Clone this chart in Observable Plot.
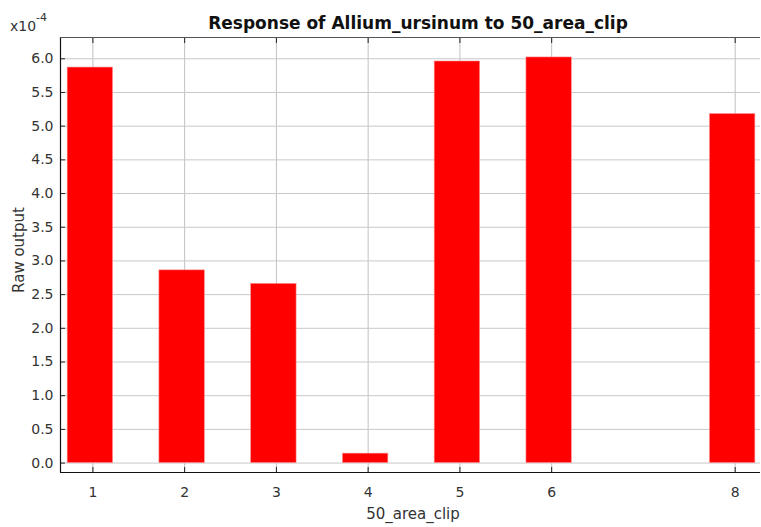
<!DOCTYPE html>
<html><head><meta charset="utf-8">
<script src="https://cdn.jsdelivr.net/npm/d3@7"></script>
<script src="https://cdn.jsdelivr.net/npm/@observablehq/plot@0.6"></script>
<style>
body{margin:0;background:#fff;}
svg{font-family:"DejaVu Sans",sans-serif;}
</style></head>
<body><div id="chart"></div>
<script>
const categories = [1, 2, 3, 4, 5, 6, 8];
const values = [5.87, 2.86, 2.66, 0.14, 5.96, 6.02, 5.18]; // x10^-4
const yTicks = [0, 0.5, 1, 1.5, 2, 2.5, 3, 3.5, 4, 4.5, 5, 5.5, 6];
const title = "Response of Allium_ursinum to 50_area_clip";
const xLabel = "50_area_clip";
const yLabel = "Raw output";

const data = categories.map((c, i) => ({x: c, v: values[i]}));
const xDom = [0.647, 8.276], yDom = [-0.14, 6.316];

const plot = Plot.plot({
  width: 761, height: 527,
  marginLeft: 60, marginRight: 1, marginTop: 37, marginBottom: 55,
  style: {fontFamily: "DejaVu Sans, sans-serif", fontSize: "14px", color: "#333", background: "#fff"},
  x: {domain: xDom, label: null},
  y: {domain: yDom, label: null},
  marks: [
    Plot.gridX(categories, {stroke: "#c0c0c0", strokeOpacity: 1}),
    Plot.gridY(yTicks, {stroke: "#c8c8c8", strokeOpacity: 1}),
    Plot.rectY(data, {x1: d => d.x - 0.275, x2: d => d.x + 0.22, y1: 0, y2: "v", fill: "#ff0000", stroke: "#ff9090", strokeWidth: 0.6}),
    Plot.axisX(categories, {anchor: "bottom", tickSize: -5, tickPadding: 20, tickFormat: d => String(d), stroke: "#222", fill: "#333"}),
    Plot.axisX(categories, {anchor: "top", tickSize: -5, tickFormat: () => "", stroke: "#222"}),
    Plot.axisY(yTicks, {anchor: "left", tickSize: -5, tickPadding: 12, tickFormat: d3.format(".1f"), stroke: "#222", fill: "#333"}),
    Plot.ruleX([xDom[0]], {stroke: "#111", strokeWidth: 1.2}),
    Plot.ruleY([yDom[0]], {stroke: "#111", strokeWidth: 1.2}),
    Plot.ruleY([yDom[1]], {stroke: "#555", strokeWidth: 1.2})
  ]
});

const svg = d3.select(plot);
svg.append("text").attr("x", 418).attr("y", 29).attr("text-anchor", "middle")
  .attr("font-weight", "bold").attr("font-size", 17).attr("fill", "#111").text(title);
svg.append("text").attr("x", 413).attr("y", 519).attr("text-anchor", "middle")
  .attr("font-size", 15).attr("fill", "#333").text(xLabel);
svg.append("text").attr("transform", "translate(24,250) rotate(-90)").attr("text-anchor", "middle")
  .attr("font-size", 15).attr("fill", "#333").text(yLabel);
const sc = svg.append("text").attr("x", 10).attr("y", 31).attr("text-anchor", "start").attr("font-size", 14).attr("fill", "#333");
sc.append("tspan").text("x10");
sc.append("tspan").attr("dy", -10).attr("font-size", 11).text("-4");

document.getElementById("chart").appendChild(plot);
</script></body></html>
